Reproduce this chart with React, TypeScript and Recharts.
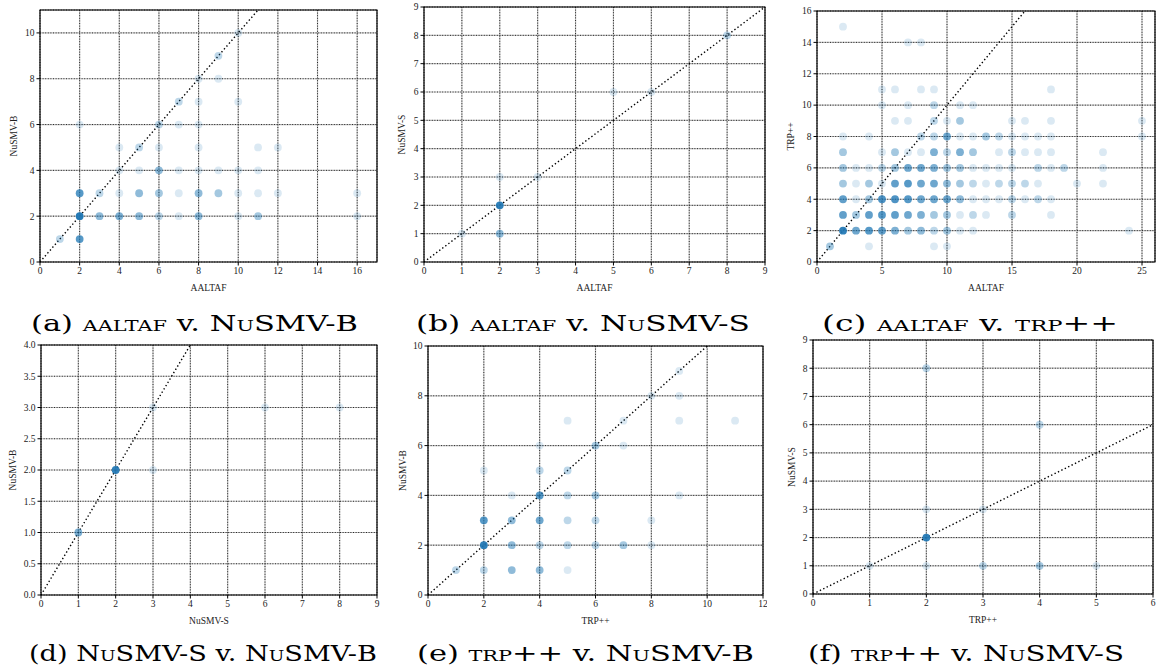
import React from 'react';
import { ScatterChart, Scatter, XAxis, YAxis, CartesianGrid, ReferenceLine, ReferenceArea } from 'recharts';

type Pt = [number, number, number]; // [x, y, count]

// (a) AALTAF v. NuSMV-B
const pointsA: Pt[] = [
  [1, 1, 2], [2, 1, 8], [2, 2, 20], [2, 3, 8], [2, 6, 1],
  [3, 2, 4], [3, 3, 2], [4, 2, 5], [4, 3, 1], [4, 4, 1], [4, 5, 1],
  [5, 2, 4], [5, 3, 4], [5, 4, 1], [5, 5, 2],
  [6, 2, 2], [6, 3, 3], [6, 4, 4], [6, 5, 1], [6, 6, 2],
  [7, 2, 1], [7, 3, 1], [7, 4, 1], [7, 6, 1], [7, 7, 2],
  [8, 2, 4], [8, 3, 4], [8, 4, 1], [8, 5, 1], [8, 6, 1], [8, 7, 1], [8, 8, 1],
  [9, 3, 3], [9, 4, 1], [9, 8, 1], [9, 9, 2],
  [10, 2, 1], [10, 3, 1], [10, 4, 1], [10, 7, 1], [10, 10, 1],
  [11, 2, 3], [11, 3, 1], [11, 4, 1], [11, 5, 1],
  [12, 3, 1], [12, 5, 1], [16, 2, 1], [16, 3, 1],
];

// (b) AALTAF v. NuSMV-S
const pointsB: Pt[] = [
  [1, 1, 1], [2, 1, 4], [2, 2, 15], [2, 3, 1], [3, 3, 1], [5, 6, 1], [6, 6, 1], [8, 8, 2],
];

// (c) AALTAF v. TRP++
const pointsC: Pt[] = [
  [1, 1, 3], [4, 1, 1], [9, 1, 1], [10, 1, 1],
  [2, 2, 15], [3, 2, 6], [4, 2, 8], [5, 2, 7], [6, 2, 5], [7, 2, 3], [8, 2, 4], [9, 2, 2], [10, 2, 3], [11, 2, 1], [12, 2, 1], [24, 2, 1],
  [2, 3, 7], [3, 3, 3], [4, 3, 7], [5, 3, 8], [6, 3, 7], [7, 3, 6], [8, 3, 5], [9, 3, 3], [10, 3, 3], [11, 3, 1], [12, 3, 2], [13, 3, 1], [15, 3, 2], [18, 3, 1],
  [2, 4, 7], [3, 4, 1], [4, 4, 3], [5, 4, 9], [6, 4, 9], [7, 4, 8], [8, 4, 6], [9, 4, 6], [10, 4, 6], [11, 4, 4], [12, 4, 1], [13, 4, 1], [14, 4, 1], [15, 4, 2], [16, 4, 1], [17, 4, 2], [18, 4, 1],
  [2, 5, 3], [3, 5, 1], [4, 5, 3], [5, 5, 1], [6, 5, 7], [7, 5, 8], [8, 5, 6], [9, 5, 6], [10, 5, 4], [11, 5, 3], [12, 5, 2], [13, 5, 1], [14, 5, 2], [15, 5, 2], [16, 5, 2], [17, 5, 1], [20, 5, 1], [22, 5, 1],
  [2, 6, 3], [3, 6, 1], [4, 6, 1], [5, 6, 2], [6, 6, 3], [7, 6, 6], [8, 6, 6], [9, 6, 5], [10, 6, 3], [11, 6, 3], [12, 6, 1], [13, 6, 1], [14, 6, 1], [15, 6, 1], [17, 6, 2], [18, 6, 1], [19, 6, 2], [22, 6, 1],
  [2, 7, 3], [5, 7, 1], [6, 7, 3], [7, 7, 1], [8, 7, 1], [9, 7, 5], [10, 7, 2], [11, 7, 5], [12, 7, 3], [14, 7, 1], [15, 7, 2], [16, 7, 1], [17, 7, 1], [18, 7, 1], [22, 7, 1],
  [2, 8, 1], [4, 8, 1], [8, 8, 2], [9, 8, 2], [10, 8, 6], [11, 8, 1], [12, 8, 1], [13, 8, 3], [14, 8, 2], [15, 8, 1], [16, 8, 1], [17, 8, 1], [18, 8, 1], [25, 8, 1],
  [6, 9, 1], [7, 9, 1], [9, 9, 2], [10, 9, 1], [11, 9, 3], [15, 9, 1], [16, 9, 1], [18, 9, 1], [25, 9, 1],
  [5, 10, 1], [7, 10, 1], [9, 10, 2], [11, 10, 1], [12, 10, 1],
  [5, 11, 1], [6, 11, 1], [8, 11, 1], [9, 11, 1], [18, 11, 1],
  [7, 14, 1], [8, 14, 1], [2, 15, 1],
];

// (d) NuSMV-S v. NuSMV-B
const pointsD: Pt[] = [
  [1, 1, 5], [2, 2, 15], [3, 2, 1], [3, 3, 1], [6, 3, 1], [8, 3, 1],
];

// (e) TRP++ v. NuSMV-B
const pointsE: Pt[] = [
  [1, 1, 2], [2, 1, 2], [2, 2, 15], [2, 3, 8], [2, 5, 1],
  [3, 1, 4], [3, 2, 4], [3, 3, 4], [3, 4, 1],
  [4, 1, 4], [4, 2, 2], [4, 3, 6], [4, 4, 8], [4, 5, 2], [4, 6, 1],
  [5, 1, 1], [5, 2, 2], [5, 3, 2], [5, 4, 2], [5, 5, 2], [5, 7, 1],
  [6, 2, 2], [6, 3, 2], [6, 4, 3], [6, 6, 3],
  [7, 2, 3], [7, 6, 1], [7, 7, 1],
  [8, 2, 1], [8, 3, 1], [8, 8, 1],
  [9, 4, 1], [9, 7, 1], [9, 8, 1], [9, 9, 1], [11, 7, 1],
];

// (f) TRP++ v. NuSMV-S
const pointsF: Pt[] = [
  [1, 1, 1], [2, 1, 1], [2, 2, 15], [2, 3, 1], [2, 8, 2],
  [3, 1, 2], [3, 3, 1], [4, 1, 3], [4, 6, 2], [5, 1, 1],
];

const ticksA_x = [0, 2, 4, 6, 8, 10, 12, 14, 16];
const ticksA_y = [0, 2, 4, 6, 8, 10];
const ticks0to9 = [0, 1, 2, 3, 4, 5, 6, 7, 8, 9];
const ticksC_x = [0, 5, 10, 15, 20, 25];
const ticksC_y = [0, 2, 4, 6, 8, 10, 12, 14, 16];
const ticksD_y = [0, 0.5, 1, 1.5, 2, 2.5, 3, 3.5, 4];
const ticksE_x = [0, 2, 4, 6, 8, 10, 12];
const ticksE_y = [0, 2, 4, 6, 8, 10];
const ticksF_x = [0, 1, 2, 3, 4, 5, 6];

type Panel = {
  pts: Pt[];
  xTicks: number[];
  yTicks: number[];
  xMax: number;
  yMax: number;
  xLabel: string;
  yLabel: string;
  box: [number, number, number, number]; // x0, x1, y0, y1 of plot area
  yLabOff: number;
  yFmt?: (v: number) => string;
};

const panels: Panel[] = [
  { pts: pointsA, xTicks: ticksA_x, yTicks: ticksA_y, xMax: 17, yMax: 11, xLabel: 'AALTAF', yLabel: 'NuSMV-B', box: [40, 377, 10, 262], yLabOff: 14 },
  { pts: pointsB, xTicks: ticks0to9, yTicks: ticks0to9, xMax: 9, yMax: 9, xLabel: 'AALTAF', yLabel: 'NuSMV-S', box: [424, 765, 7, 262], yLabOff: 18 },
  { pts: pointsC, xTicks: ticksC_x, yTicks: ticksC_y, xMax: 26, yMax: 16, xLabel: 'AALTAF', yLabel: 'TRP++', box: [817, 1155, 11, 262], yLabOff: 14 },
  { pts: pointsD, xTicks: ticks0to9, yTicks: ticksD_y, xMax: 9, yMax: 4, xLabel: 'NuSMV-S', yLabel: 'NuSMV-B', box: [41, 377, 345, 595], yLabOff: 12, yFmt: (v) => v.toFixed(1) },
  { pts: pointsE, xTicks: ticksE_x, yTicks: ticksE_y, xMax: 12, yMax: 10, xLabel: 'TRP++', yLabel: 'NuSMV-B', box: [428, 763, 346, 595], yLabOff: 15 },
  { pts: pointsF, xTicks: ticksF_x, yTicks: ticks0to9, xMax: 6, yMax: 9, xLabel: 'TRP++', yLabel: 'NuSMV-S', box: [813, 1153, 340, 594], yLabOff: 19 },
];

const FONT = '"Liberation Serif", "DejaVu Serif", serif';
const CAP_FONT = '"DejaVu Serif", "Liberation Serif", serif';
const BLUE = '#1f77b4';

const Dot = (props: any) => {
  const { cx, cy, payload } = props;
  if (cx == null || cy == null) return <g />;
  const n = payload && payload.n ? payload.n : 1;
  const a = 1 - Math.pow(0.84, n);
  return <circle cx={cx} cy={cy} r={3.9} fill={BLUE} fillOpacity={a} />;
};

const tickStyle = { fontSize: 9.5, fontFamily: FONT, fill: '#222' };

function PanelChart({ p }: { p: Panel }) {
  const [x0, x1, y0, y1] = p.box;
  const padL = 40;
  const padT = 10;
  const padR = 4;
  const axH = 40;
  const w = x1 - x0 + padL + padR;
  const h = y1 - y0 + padT + axH;
  const data = p.pts.map(([x, y, n]) => ({ x, y, n }));
  const m = Math.min(p.xMax, p.yMax);
  return (
    <div style={{ position: 'absolute', left: x0 - padL, top: y0 - padT, width: w, height: h }}>
      <ScatterChart width={w} height={h} margin={{ top: padT, right: padR, left: 0, bottom: 0 }}>
        <CartesianGrid stroke="#c0c0c0" strokeWidth={1.2} />
        <CartesianGrid stroke="#000" strokeDasharray="1 1.6" strokeWidth={0.8} />
        <XAxis
          type="number"
          dataKey="x"
          domain={[0, p.xMax]}
          ticks={p.xTicks}
          allowDataOverflow
          height={axH}
          axisLine={false}
          tickLine={{ stroke: '#000' }}
          tickSize={3.5}
          tickMargin={2}
          tick={tickStyle}
          interval={0}
          label={{ value: p.xLabel, position: 'insideBottom', offset: 11, style: { fontSize: 9.5, fontFamily: FONT, fill: '#222' } }}
        />
        <YAxis
          type="number"
          dataKey="y"
          domain={[0, p.yMax]}
          ticks={p.yTicks}
          allowDataOverflow
          width={padL}
          axisLine={false}
          tickLine={{ stroke: '#000' }}
          tickSize={3.5}
          tickMargin={2}
          tick={tickStyle}
          interval={0}
          tickFormatter={p.yFmt ? p.yFmt : (v: number) => String(v)}
          label={{ value: p.yLabel, angle: -90, position: 'insideLeft', offset: p.yLabOff, style: { fontSize: 9.5, fontFamily: FONT, fill: '#222', textAnchor: 'middle' } }}
        />
        <Scatter data={data} shape={<Dot />} isAnimationActive={false} />
        <ReferenceLine
          segment={[{ x: 0, y: 0 }, { x: m, y: m }]}
          stroke="#000"
          strokeWidth={1.4}
          strokeDasharray="1.4 2.4"
          ifOverflow="visible"
        />
        <ReferenceArea x1={0} x2={p.xMax} y1={0} y2={p.yMax} fill="none" fillOpacity={0} stroke="#000" strokeWidth={1.1} ifOverflow="visible" />
      </ScatterChart>
    </div>
  );
}

const SC: React.CSSProperties = { fontVariant: 'small-caps' };

type Cap = { tag: string; a: string; b: string; x: number; y: number; len: number };
const captions: Cap[] = [
  { tag: '(a) ', a: 'aaltaf', b: 'NuSMV-B', x: 31, y: 331, len: 327 },
  { tag: '(b) ', a: 'aaltaf', b: 'NuSMV-S', x: 416, y: 331, len: 334 },
  { tag: '(c) ', a: 'aaltaf', b: 'trp++', x: 822, y: 331, len: 296 },
  { tag: '(d) ', a: 'NuSMV-S', b: 'NuSMV-B', x: 29, y: 661, len: 348 },
  { tag: '(e) ', a: 'trp++', b: 'NuSMV-B', x: 417, y: 661, len: 337 },
  { tag: '(f) ', a: 'trp++', b: 'NuSMV-S', x: 808, y: 661, len: 316 },
];

export default function App() {
  return (
    <div style={{ position: 'absolute', left: 0, top: 0, width: 1156, height: 668, background: '#fff', overflow: 'hidden' }}>
      {panels.map((p, i) => (
        <PanelChart key={i} p={p} />
      ))}
      <svg width={1156} height={668} style={{ position: 'absolute', left: 0, top: 0, pointerEvents: 'none' }}>
        {captions.map((c, i) => (
          <text key={i} x={c.x} y={c.y} fontSize={22} fontFamily={CAP_FONT} fontWeight={300} fill="#000" textLength={c.len} lengthAdjust="spacingAndGlyphs">
            <tspan>{c.tag}</tspan>
            <tspan style={SC}>{c.a}</tspan>
            <tspan>{' v. '}</tspan>
            <tspan style={SC}>{c.b}</tspan>
          </text>
        ))}
      </svg>
    </div>
  );
}
